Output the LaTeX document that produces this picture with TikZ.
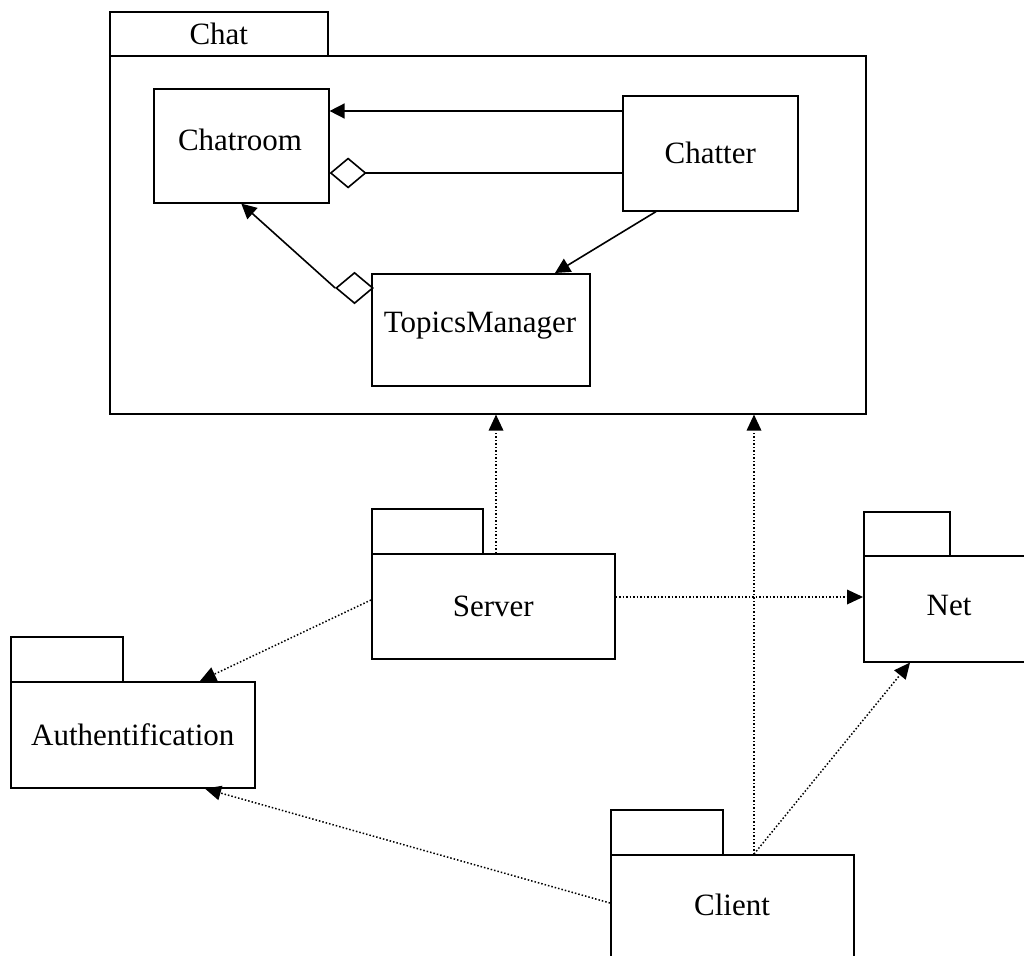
\documentclass[tikz,border=0pt]{standalone}
\usepackage{fontspec}
\setmainfont{Liberation Serif}
\usetikzlibrary{arrows.meta,calc,shapes.geometric}
\begin{document}
\begin{tikzpicture}[x=1pt,y=-1pt,
  box/.style={draw,line width=1.6pt,rectangle,inner sep=0pt,anchor=north west,
    font=\fontsize{31}{36}\selectfont},
  lbl/.style={inner sep=0pt,font=\fontsize{31}{36}\selectfont},
  assoc/.style={line width=1.6pt,-{Triangle[length=15pt,width=15pt]}},
  agg/.style={line width=1.6pt,-{Diamond[open,length=37pt,width=31pt,line width=1.6pt]}},
  dep/.style={line width=1.5pt,dash pattern=on 1.5pt off 2pt,-{Triangle[length=16pt,width=15pt,line width=0pt]}}]
\useasboundingbox (0,0) rectangle (1024,955);
\fill[white] (0,0) rectangle (1024,955);
\begin{scope}
\clip (0,0) rectangle (1024,955);
% Chat package
\node[box,minimum width=218pt,minimum height=44pt] (chattab) at (109,11) {Chat};
\node[box,minimum width=756pt,minimum height=358pt] (chat) at (109,55) {};
% classes
\node[box,minimum width=175pt,minimum height=114pt] (chatroom) at (153,88) {};
\node[lbl] (chatroomlbl) at (240,140) {Chatroom};
\node[box,minimum width=175pt,minimum height=115pt] (chatter) at (622,95) {Chatter};
\node[box,minimum width=218pt,minimum height=112pt] (tm) at (371,273) {};
\node[lbl] (tmlbl) at (480,326) {TopicsManager};
% Server
\node[box,minimum width=111pt,minimum height=45pt] (servertab) at (371,508) {};
\node[box,minimum width=243pt,minimum height=105pt] (server) at (371,553) {Server};
% Net
\node[box,minimum width=86pt,minimum height=44pt] (nettab) at (863,511) {};
\node[box,minimum width=200pt,minimum height=106pt] (net) at (863,555) {};
\node[lbl] (netlbl) at (949,605) {Net};
% Authentification
\node[box,minimum width=112pt,minimum height=45pt] (authtab) at (10,636) {};
\node[box,minimum width=244pt,minimum height=106pt] (auth) at (10,681) {Authentification};
% Client
\node[box,minimum width=112pt,minimum height=45pt] (clienttab) at (610,809) {};
\node[box,minimum width=243pt,minimum height=120pt] (client) at (610,854) {};
\node[lbl] (clientlbl) at (732,905) {Client};
\end{scope}
% class relations
\draw[assoc] (chatter.west |- 0,111) -- (chatroom.east |- 0,111);
\draw[agg] (chatter.west |- 0,173) -- (chatroom.east |- 0,173);
\draw[assoc] ($(chatter.south west)+(34,0)$) -- ($(tm.north west)+(184,0)$);
\node[diamond,draw,line width=1.6pt,fill=white,inner sep=0pt,minimum width=37pt,minimum height=31pt] (tmdia) at (354.5,288) {};
\draw[assoc] (tmdia.west) -- (chatroom.south);
% dependencies
\coordinate (s1) at ($(server.north west)+(125,0)$);
\coordinate (c1) at ($(client.north west)+(144,0)$);
\draw[dep] (s1) -- (s1 |- chat.south);
\draw[dep] (c1) -- (c1 |- chat.south);
\draw[dep] ($(server.north east)+(0,44)$) -- ($(net.north west)+(0,42)$);
\draw[dep] ($(server.north west)+(0,47)$) -- ($(auth.north west)+(190,0)$);
\draw[dep] ($(client.north west)+(0,49)$) -- ($(auth.south west)+(195,0)$);
\draw[dep] (c1) -- ($(net.south west)+(47,0)$);
\end{tikzpicture}
\end{document}
